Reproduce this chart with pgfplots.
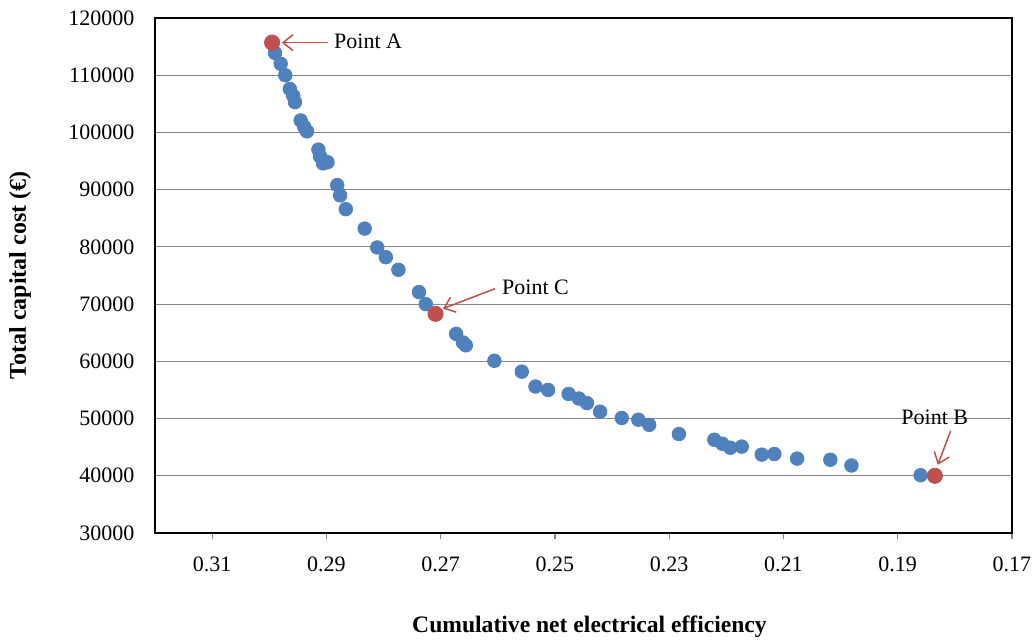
\documentclass[border=0pt]{standalone}
\usepackage{fontspec}
\setmainfont{Liberation Serif}
\usepackage{pgfplots}
\pgfplotsset{compat=1.18}
\usetikzlibrary{arrows.meta}
\definecolor{ptblue}{RGB}{79,129,189}
\definecolor{ptred}{RGB}{192,80,77}
\definecolor{gridgray}{RGB}{134,134,134}
\begin{document}
\fontsize{11pt}{13pt}\selectfont
\begin{tikzpicture}
\useasboundingbox (0,0) rectangle (517.5pt,319.5pt);
\begin{axis}[
    at={(77.5pt,53pt)}, anchor=south west,
    scale only axis, width=428.5pt, height=257.5pt,
    x dir=reverse,
    xmin=0.17, xmax=0.32, ymin=30000, ymax=120000,
    scaled x ticks=false, scaled y ticks=false,
    xtick={0.17,0.19,0.21,0.23,0.25,0.27,0.29,0.31},
    xticklabels={0.17,0.19,0.21,0.23,0.25,0.27,0.29,0.31},
    ytick={30000,40000,50000,60000,70000,80000,90000,100000,110000,120000},
    yticklabels={30000,40000,50000,60000,70000,80000,90000,100000,110000,120000},
    xticklabel style={yshift=-5pt},
    yticklabel style={xshift=-3.5pt},
    tick label style={font=\fontsize{11pt}{13pt}\selectfont},
    xtick pos=bottom, tick align=outside,
    x tick style={gridgray, line width=0.6pt}, major tick length=3pt,
    y tick style={draw=none},
    ymajorgrids, grid style={gridgray, line width=0.6pt},
    axis line style={black, line width=1.4pt},
    xlabel={\textbf{Cumulative net electrical efficiency}},
    ylabel={\textbf{Total capital cost (€)}},
    x label style={at={(axis description cs:0.507,-0.1825)}, anchor=center, font=\fontsize{11.8pt}{14pt}\selectfont},
    y label style={at={(axis description cs:-0.1575,0.5)}, anchor=center, font=\fontsize{12pt}{14pt}\selectfont},
    clip=false,
]
\addplot[only marks, mark=*, mark size=3.4pt, mark options={fill=ptblue, draw=ptblue}] coordinates {
(0.2990,113900) (0.2980,112000) (0.2972,110000) (0.2964,107600)
(0.2958,106400) (0.2955,105300) (0.2945,102100) (0.2939,101000)
(0.2934,100200) (0.2914,97000) (0.2911,95800) (0.2906,94600)
(0.2898,94800) (0.2881,90800) (0.2876,89000) (0.2866,86600)
(0.2833,83200) (0.2811,79900) (0.2796,78200) (0.2774,76000)
(0.2738,72100) (0.2726,70000) (0.2673,64800) (0.2661,63300)
(0.2656,62800) (0.2606,60100) (0.2558,58200) (0.2534,55600)
(0.2512,55000) (0.2476,54300) (0.2458,53500) (0.2444,52700)
(0.2421,51200) (0.2383,50100) (0.2354,49800) (0.2335,48900)
(0.2283,47300) (0.2221,46300) (0.2207,45600) (0.2193,44900)
(0.2173,45100) (0.2138,43700) (0.2116,43800) (0.2076,43000)
(0.2018,42800) (0.1981,41800) (0.1860,40100)
};
\addplot[only marks, mark=*, mark size=3.8pt, mark options={fill=ptred, draw=ptred}] coordinates {
(0.2995,115700) (0.2709,68300) (0.1835,40000)
};
% annotations
\draw[ptred, line width=0.75pt, -{Straight Barb[length=5pt,width=8pt]}] (axis cs:0.2897,115700) -- (axis cs:0.2978,115700);
\node[anchor=west, inner sep=0pt] at (axis cs:0.2887,115860) {Point A};
\draw[ptred, line width=0.75pt, -{Straight Barb[length=5pt,width=8pt]}] (axis cs:0.2605,72694) -- (axis cs:0.2696,69199);
\node[anchor=west, inner sep=0pt] at (axis cs:0.2593,72869) {Point C};
\draw[ptred, line width=0.75pt, -{Straight Barb[length=5pt,width=8pt]}] (axis cs:0.18072,47878) -- (axis cs:0.18299,41936);
\node[inner sep=0pt] at (axis cs:0.18352,50150) {Point B};
\end{axis}
\end{tikzpicture}
\end{document}
